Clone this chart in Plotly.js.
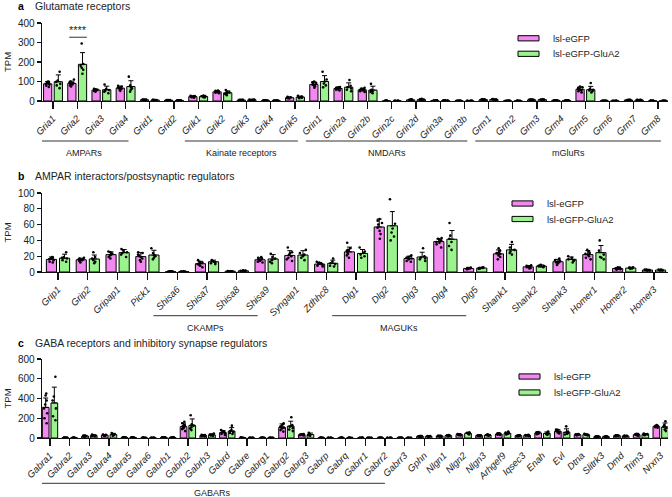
<!DOCTYPE html>
<html>
<head>
<meta charset="utf-8">
<script src="https://cdn.plot.ly/plotly-3.0.1.min.js"></script>
<style>
  html, body { margin: 0; padding: 0; background: #fff; }
  #chart { width: 672px; height: 497px; }
</style>
</head>
<body>
<div id="chart"></div>
<script>
// ---- Panel a: glutamate receptors ----
const genesA = ["Gria1","Gria2","Gria3","Gria4","Grid1","Grid2","Grik1","Grik2","Grik3","Grik4","Grik5",
  "Grin1","Grin2a","Grin2b","Grin2c","Grin2d","Grin3a","Grin3b","Grm1","Grm2","Grm3","Grm4","Grm5","Grm6","Grm7","Grm8"];
const meanA_ctrl  = [88, 90, 56, 66, 6, 4, 22, 47, 5, 2, 17, 85, 64, 57, 1, 6, 2, 1, 7, 1, 6, 3, 60, 1, 5, 1];
const sdA_ctrl    = [12, 12, 5, 10, 1, 1, 4, 5, 1, 0.5, 3, 13, 8, 8, 0.3, 1.5, 0.5, 0.3, 1.5, 0.3, 1.5, 0.5, 12, 0.3, 1, 0.3];
const meanA_glua2 = [99, 188, 58, 74, 5, 3, 23, 42, 6, 2, 20, 100, 71, 56, 1, 7, 2, 1, 8, 1, 7, 3, 58, 1, 5, 1];
const sdA_glua2   = [35, 60, 18, 30, 1, 0.5, 4, 10, 1, 0.5, 5, 30, 22, 20, 0.3, 3, 0.5, 0.3, 2, 0.3, 2, 0.5, 17, 0.3, 1, 0.3];
const dotsA_ctrl = [
  [72,78,84,88,92,95,98,100],[74,80,85,88,92,96,100,110],[48,51,53,55,56,58,60,62],[52,58,62,65,68,70,74,78],
  [4,5,5,6,6,7,7,8],[3,3,4,4,4,5,5,5],[17,19,21,22,23,24,25,27],[40,43,45,47,48,50,52,54],
  [4,4,5,5,5,6,6,6],[1,2,2,2,2,2,3,3],[13,15,16,17,17,18,19,21],[68,76,80,84,88,92,96,100],
  [54,58,61,64,66,68,70,72],[46,50,54,56,58,60,64,68],[1,1,1,1,1,1,1,2],[4,5,5,6,6,7,7,9],
  [1,2,2,2,2,2,2,3],[1,1,1,1,1,1,1,1],[5,6,6,7,7,8,8,9],[1,1,1,1,1,1,1,1],
  [4,5,6,6,6,7,7,8],[2,3,3,3,3,3,4,4],[44,50,55,58,62,66,70,74],[1,1,1,1,1,1,1,1],
  [4,4,5,5,5,5,6,6],[1,1,1,1,1,1,1,1]
];
const dotsA_glua2 = [
  [66,80,88,98,105,150],[140,160,170,180,190,295],[40,48,52,56,62,85],[48,58,64,70,80,125],
  [4,4,5,5,6,6],[2,3,3,3,3,4],[18,20,22,24,25,28],[30,36,40,44,46,56],
  [5,5,6,6,7,7],[2,2,2,2,2,3],[14,17,19,21,22,27],[70,80,90,100,110,150],
  [50,58,64,70,78,108],[40,46,50,54,58,88],[1,1,1,1,1,1],[4,5,6,7,9,11],
  [2,2,2,2,2,3],[1,1,1,1,1,1],[6,7,8,8,9,10],[1,1,1,1,1,1],
  [5,6,7,7,8,9],[2,3,3,3,3,4],[44,50,54,58,62,92],[1,1,1,1,1,1],
  [4,5,5,5,6,6],[1,1,1,1,1,1]
];
const ticksA = [0, 100, 200, 300, 400];
const groupNamesA = ["AMPARs", "Kainate receptors", "NMDARs", "mGluRs"];
const groupFromA  = ["Gria1", "Grik1", "Grin1", "Grm1"];
const groupToA    = ["Gria4", "Grik5", "Grin3b", "Grm8"];

// ---- Panel b: AMPAR interactors ----
const genesB = ["Grip1","Grip2","Gripap1","Pick1","Shisa6","Shisa7","Shisa8","Shisa9","Syngap1","Zdhhc8",
  "Dlg1","Dlg2","Dlg3","Dlg4","Dlg5","Shank1","Shank2","Shank3","Homer1","Homer2","Homer3"];
const meanB_ctrl  = [16, 15.5, 22, 19.5, 0.5, 10.5, 1, 15.5, 21, 10, 25.5, 57, 17, 38.5, 4.5, 23, 6.5, 13, 22, 4.5, 2.5];
const sdB_ctrl    = [3, 2, 3.5, 5, 0.2, 3, 0.3, 2.5, 6, 2, 6, 10, 3, 3.5, 0.8, 5, 1.5, 3, 5, 1, 0.5];
const meanB_glua2 = [17.5, 16.5, 24.5, 21.5, 0.5, 13, 1.5, 16.5, 21.5, 11, 23.5, 58.5, 19, 41.5, 5, 28, 7.5, 16, 24.5, 5, 2.5];
const sdB_glua2   = [5, 5, 4, 6, 0.2, 2, 0.4, 5.5, 5.5, 4, 5, 18, 6, 11, 1, 7, 1.5, 3, 9, 1, 0.5];
const dotsB_ctrl = [
  [12,13,15,16,17,18,18,19],[12,14,15,15,16,16,17,18],[17,19,21,22,23,24,25,26],[13,15,17,19,21,22,24,25],
  [0.4,0.5,0.5,0.5,0.5,0.6,0.6,0.5],[6,8,9,10,11,12,13,15],[0.8,1,1,1,1,1,1.2,1],[12,13,14,15,16,17,18,19],
  [14,16,18,20,22,24,25,31],[7,8,9,10,10,11,12,13],[18,21,23,25,27,28,30,37],[42,48,52,56,60,62,65,67],
  [13,14,16,17,18,19,20,21],[31,35,37,38,40,41,42,43],[3.5,4,4,4.5,4.5,5,5,5.5],[16,19,21,23,24,25,27,30],
  [4.5,5,6,6.5,7,7,8,8.5],[9,11,12,13,13,14,15,17],[16,18,20,22,23,24,26,28],[3,3.5,4,4.5,4.5,5,5.5,6],
  [2,2,2.5,2.5,2.5,2.5,3,3]
];
const dotsB_glua2 = [
  [13,15,17,18,19,25],[11,13,15,17,19,25],[19,22,24,25,27,29],[16,18,20,21,24,30],
  [0.5,0.5,0.5,0.5,0.5,0.5],[10,11,12,13,14,15],[1,1.2,1.5,1.5,1.8,2],[11,13,15,17,19,23],
  [15,18,20,22,24,28],[7,8,10,11,13,17],[18,20,22,24,26,31],[40,45,50,55,61,92],
  [14,16,17,18,20,30],[28,33,38,42,46,62],[4,4.5,5,5,5.5,6],[22,24,26,28,31,38],
  [6,7,7,7.5,8,9],[12,14,15,16,18,20],[16,18,19,22,27,40],[4,4.5,5,5,5.5,6],
  [2,2,2.5,2.5,3,3]
];
const ticksB = [0, 20, 40, 60, 80, 100];
const groupNamesB = ["CKAMPs", "MAGUKs"];
const groupFromB  = ["Shisa6", "Dlg1"];
const groupToB    = ["Shisa9", "Dlg5"];

// ---- Panel c: GABA receptors ----
const genesC = ["Gabra1","Gabra2","Gabra3","Gabra4","Gabra5","Gabra6","Gabrb1","Gabrb2","Gabrb3","Gabrd","Gabre",
  "Gabrg1","Gabrg2","Gabrg3","Gabrp","Gabrq","Gabrr1","Gabrr2","Gabrr3","Gphn","Nlgn1","Nlgn2","Nlgn3",
  "Arhgef9","Iqsec3","Enah","Evl","Dtna","Slitrk3","Dmd","Trim3","Nrxn3"];
const meanC_ctrl  = [310, 3, 20, 28, 5, 2, 5, 115, 25, 55, 2, 2, 108, 33, 3, 1, 1, 1, 1, 17, 20, 34, 24, 40, 24, 51, 68, 34, 14, 24, 34, 118];
const sdC_ctrl    = [95, 1, 5, 6, 1, 0.5, 1, 35, 6, 20, 0.5, 0.5, 35, 6, 1, 0.3, 0.3, 0.3, 0.3, 3, 3, 6, 4, 8, 4, 10, 17, 5, 2, 4, 8, 10];
const meanC_glua2 = [355, 3, 25, 35, 5, 2, 5, 128, 32, 70, 2, 2, 120, 35, 3, 1, 1, 1, 1, 17, 24, 47, 30, 48, 27, 46, 58, 34, 14, 20, 37, 112];
const sdC_glua2   = [160, 1, 7, 12, 1, 0.5, 1, 65, 10, 35, 0.5, 0.5, 50, 15, 1, 0.3, 0.3, 0.3, 0.3, 3, 4, 8, 5, 12, 4, 15, 35, 6, 2, 4, 7, 40];
const dotsC_ctrl = [
  [150,200,250,300,340,380,430,450],[2,3,3,3,3,3,4,4],[14,16,18,20,21,22,24,25],[20,23,26,28,30,31,33,35],
  [4,4,5,5,5,5,6,6],[2,2,2,2,2,2,2,2],[4,4,5,5,5,5,6,6],[70,90,100,110,120,130,150,165],
  [18,20,23,25,27,28,30,32],[30,40,48,55,60,65,70,80],[2,2,2,2,2,2,2,2],[2,2,2,2,2,2,2,2],
  [65,80,95,105,115,125,140,150],[25,28,31,33,35,36,38,40],[3,3,3,3,3,3,3,3],[1,1,1,1,1,1,1,1],
  [1,1,1,1,1,1,1,1],[1,1,1,1,1,1,1,1],[1,1,1,1,1,1,1,1],[13,14,16,17,18,19,20,21],
  [16,18,19,20,21,22,22,23],[26,29,32,34,36,37,38,40],[18,21,23,24,25,26,27,28],[30,34,38,40,42,44,46,48],
  [18,21,23,24,25,26,27,28],[38,44,48,51,54,56,58,60],[45,55,62,68,72,78,82,85],[27,30,32,34,36,37,38,40],
  [11,12,13,14,15,15,16,17],[18,21,23,24,25,26,27,28],[24,28,32,34,36,38,40,42],[105,110,114,117,120,122,125,130]
];
const dotsC_glua2 = [
  [180,220,300,380,420,620],[3,3,3,3,3,4],[17,20,24,26,29,34],[24,28,32,36,40,50],
  [4,5,5,5,5,6],[2,2,2,2,2,2],[4,5,5,5,5,6],[80,95,110,125,140,230],
  [22,26,30,33,36,45],[40,50,60,70,80,125],[2,2,2,2,2,2],[2,2,2,2,2,2],
  [70,85,100,115,130,210],[22,28,32,36,40,52],[3,3,3,3,3,3],[1,1,1,1,1,1],
  [1,1,1,1,1,1],[1,1,1,1,1,1],[1,1,1,1,1,1],[13,15,16,18,19,21],
  [18,21,23,25,27,30],[36,42,45,48,52,58],[23,26,29,31,33,37],[36,40,45,48,52,65],
  [21,24,26,28,30,32],[32,38,42,46,52,66],[35,42,50,58,65,118],[26,30,33,35,37,42],
  [11,13,14,14,15,17],[15,17,19,21,22,24],[28,32,35,38,41,45],[70,85,100,115,130,170]
];
const ticksC = [0, 200, 400, 600, 800];
const groupNamesC = ["GABARs"];
const groupFromC  = ["Gabra1"];
const groupToC    = ["Gabrr3"];

const seriesNames = ["lsl-eGFP", "lsl-eGFP-GluA2"];

// ---- styling ----
const W = 672, H = 497;
const PINK = "#F288F0", GREEN = "#9BF38E";
const FONT = "Liberation Sans, Arial, sans-serif";
const TXT = "#222";
const px = x => x / W;
const py = y => 1 - y / H;

const panels = [
  { id: "", letter: "a", title: "Glutamate receptors", genes: genesA,
    mean: [meanA_ctrl, meanA_glua2], sd: [sdA_ctrl, sdA_glua2], dots: [dotsA_ctrl, dotsA_glua2],
    ticks: ticksA, yZero: 101, yTop: 23, firstX: 53, step: 24.2, titleY: 6,
    groups: [groupNamesA, groupFromA, groupToA], gOff: [-0.55, 0.12], lineY: 141, labelY: 153.5,
    legendX: 518, legendY: [38.3, 53.8] },
  { id: "2", letter: "b", title: "AMPAR interactors/postsynaptic regulators", genes: genesB,
    mean: [meanB_ctrl, meanB_glua2], sd: [sdB_ctrl, sdB_glua2], dots: [dotsB_ctrl, dotsB_glua2],
    ticks: ticksB, yZero: 272, yTop: 193, firstX: 58, step: 29.8, titleY: 176.5,
    groups: [groupNamesB, groupFromB, groupToB], gOff: [-0.8, -0.3], lineY: 315.7, labelY: 328,
    legendX: 512, legendY: [203.5, 219] },
  { id: "3", letter: "c", title: "GABA receptors and inhibitory synapse regulators", genes: genesC,
    mean: [meanC_ctrl, meanC_glua2], sd: [sdC_ctrl, sdC_glua2], dots: [dotsC_ctrl, dotsC_glua2],
    ticks: ticksC, yZero: 438, yTop: 359, firstX: 50, step: 19.7, titleY: 343,
    groups: [groupNamesC, groupFromC, groupToC], gOff: [-0.5, -1.0], lineY: 483.3, labelY: 493,
    legendX: 519, legendY: [376.5, 392.5] }
];

const traces = [];
const layout = {
  width: W, height: H,
  margin: { l: 0, r: 0, t: 0, b: 0 },
  paper_bgcolor: "#fff", plot_bgcolor: "#fff",
  font: { family: FONT, color: TXT, size: 10 },
  barmode: "overlay",
  showlegend: false,
  annotations: [], shapes: []
};

const axLeft = 42, axRight = 668;

panels.forEach(p => {
  const xa = "x" + p.id, ya = "y" + p.id;
  const idx = p.genes.map((g, i) => i);
  const colors = [PINK, GREEN];
  const offs = [-0.22, 0.22];

  [0, 1].forEach(s => {
    traces.push({
      type: "bar", xaxis: xa, yaxis: ya, name: seriesNames[s],
      x: idx.map(i => i + offs[s]), y: p.mean[s], width: 0.34,
      marker: { color: colors[s], line: { color: "#000", width: 1 } },
      error_y: { type: "data", symmetric: false, array: p.sd[s], arrayminus: p.sd[s].map(() => 0),
        color: "#000", thickness: 1, width: 2.5 },
      hoverinfo: "y"
    });
    const bx = [], by = [];
    p.dots[s].forEach((vals, i) => vals.forEach(v => { bx.push(i + offs[s]); by.push(v); }));
    traces.push({
      type: "box", xaxis: xa, yaxis: ya, x: bx, y: by,
      boxpoints: "all", jitter: 0.8, pointpos: 0, width: 0.26,
      line: { width: 0, color: "rgba(0,0,0,0)" }, fillcolor: "rgba(0,0,0,0)",
      marker: { color: "#000", size: 2.6 }, hoverinfo: "y", showlegend: false
    });
  });

  const x0 = -(p.firstX - axLeft) / p.step;
  const x1 = x0 + (axRight - axLeft) / p.step;
  const yMax = p.ticks[p.ticks.length - 1];

  layout["xaxis" + p.id] = {
    domain: [px(axLeft), px(axRight)], anchor: ya, range: [x0, x1],
    tickvals: idx, ticktext: p.genes.map(g => "<i>" + g + "</i>"), tickangle: -45,
    tickfont: { family: FONT, size: 9.5, color: TXT },
    showline: true, linecolor: "#111", linewidth: 1.3, ticks: "outside", ticklen: 7,
    tickcolor: "#111", tickwidth: 1.3, showgrid: false, zeroline: false, automargin: false, fixedrange: true
  };
  layout["yaxis" + p.id] = {
    domain: [py(p.yZero), py(p.yTop)], anchor: xa, range: [0, yMax],
    tickvals: p.ticks, tickfont: { family: FONT, size: 10, color: TXT },
    showline: true, linecolor: "#111", linewidth: 1.3, ticks: "outside", ticklen: 4,
    tickcolor: "#111", tickwidth: 1.3, showgrid: false, zeroline: false, automargin: false, fixedrange: true
  };

  // panel letter + title
  layout.annotations.push(
    { xref: "paper", yref: "paper", x: px(16), y: py(p.titleY), xanchor: "left", yanchor: "middle",
      text: "<b>" + p.letter + "</b>", showarrow: false, font: { size: 10.5, color: "#000" } },
    { xref: "paper", yref: "paper", x: px(33), y: py(p.titleY), xanchor: "left", yanchor: "middle",
      text: p.title, showarrow: false, font: { size: 10.5, color: TXT } },
    { xref: "paper", yref: "paper", x: px(7), y: py((p.yZero + p.yTop) / 2), xanchor: "center", yanchor: "middle",
      text: "TPM", textangle: -90, showarrow: false, font: { size: 9.5, color: TXT } }
  );

  // gene family brackets
  const [names, from, to] = p.groups;
  names.forEach((n, k) => {
    const a = p.genes.indexOf(from[k]) + p.gOff[0];
    const b = p.genes.indexOf(to[k]) + p.gOff[1];
    layout.shapes.push({ type: "line", xref: xa, yref: "paper", x0: a, x1: b,
      y0: py(p.lineY), y1: py(p.lineY), line: { color: "#333", width: 1 } });
    layout.annotations.push({ xref: xa, yref: "paper", x: (a + b) / 2, y: py(p.labelY),
      xanchor: "center", yanchor: "middle", text: n, showarrow: false, font: { size: 9, color: TXT } });
  });

  // legend
  [0, 1].forEach(s => {
    const cy = p.legendY[s];
    layout.shapes.push({ type: "rect", xref: "paper", yref: "paper",
      x0: px(p.legendX), x1: px(p.legendX + 21), y0: py(cy + 2.6), y1: py(cy - 2.6),
      fillcolor: colors[s], line: { color: "#000", width: 1 } });
    layout.annotations.push({ xref: "paper", yref: "paper", x: px(p.legendX + 33), y: py(cy),
      xanchor: "left", yanchor: "middle", text: seriesNames[s], showarrow: false,
      font: { size: 9.5, color: TXT } });
  });
});

// significance marker over Gria2
const gria2 = genesA.indexOf("Gria2");
layout.shapes.push({ type: "line", xref: "x", yref: "y", x0: gria2 - 0.33, x1: gria2 + 0.4,
  y0: 327, y1: 327, line: { color: "#333", width: 1 } });
layout.annotations.push({ xref: "x", yref: "y", x: gria2 + 0.03, y: 362, text: "****",
  showarrow: false, font: { size: 11, color: TXT } });

Plotly.newPlot("chart", traces, layout, { displayModeBar: false, staticPlot: true });
</script>
</body>
</html>
